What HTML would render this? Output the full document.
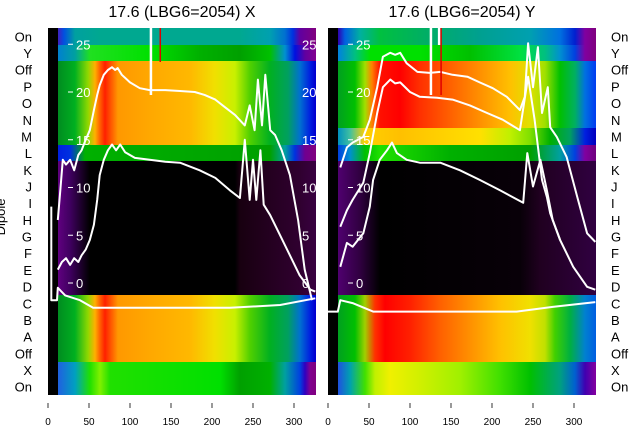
<!DOCTYPE html>
<html><head><meta charset="utf-8"><style>
html,body{margin:0;padding:0;background:#fff;}
svg{display:block;font-family:"Liberation Sans","DejaVu Sans",sans-serif;}
</style></head><body>
<svg id="chart" width="640" height="440" viewBox="0 0 640 440" xmlns="http://www.w3.org/2000/svg">
<defs id="defs"></defs>
<g id="root"></g>
</svg>
<script>
// ---------- data ----------
const rowLabels = ["On","Y","Off","P","O","N","M","L","K","J","I","H","G","F","E","D","C","B","A","Off","X","On"];
const xTicks = [0,50,100,150,200,250,300];
const yTicks = [0,5,10,15,20,25];
const titles = ["17.6 (LBG6=2054) X","17.6 (LBG6=2054) Y"];

// left panel curves (x in units, y in overlay units)
const leftUpperX = [12,15,18,22,27,32,37,41,46,51,56,60,63,68,73,78,82,85,90,100,112,124,143,161,179,191,204,216,228,240,246,252,256,261,265,271,277,285,295,305,313,322];
const leftUpperY = [6.6,9.7,12.9,12.4,12.9,11.8,13.4,13.9,15.0,16.0,18.1,19.7,20.7,21.8,22.3,22.6,22.3,22.5,21.8,21.0,20.4,20.2,20.2,20.1,20.0,19.7,19.2,18.4,17.6,16.5,18.6,16.0,21.3,16.5,21.8,16.0,15.5,13.9,11.3,6.6,1.4,-1.8];
const leftLowerX = [12,17,22,27,32,37,41,46,51,56,60,63,68,73,78,83,88,94,106,124,143,161,185,204,222,234,240,246,250,254,259,263,271,283,295,307,320,326];
const leftLowerY = [1.4,2.2,2.6,1.9,2.6,2.2,2.9,3.5,4.5,6.1,8.7,11.3,12.9,13.9,14.5,13.9,14.5,13.7,13.1,12.9,12.7,12.6,11.8,11.0,9.7,8.9,15.0,8.7,12.9,8.7,13.9,8.2,7.1,5.0,2.9,0.8,-0.7,-0.9];
const leftBaseX = [4,4,11,12,21,39,55,222,283,326];
const leftBaseY = [8,-1.8,-1.8,-0.5,-1.3,-1.8,-2.6,-2.6,-2.3,-1.6];

// right panel curves
const rightUpperX = [15,23,30,43,51,60,67,76,82,88,96,109,124,137,152,170,185,201,218,234,240,244,250,256,261,268,271,279,291,304,316,326];
const rightUpperY = [12.1,14.2,14.7,15.3,17.1,20.5,23.7,24.1,23.9,24.1,23.0,22.1,22.0,22.1,21.8,21.6,21.0,20.4,19.5,18.1,19.5,25.1,20.5,24.7,17.8,20.5,16.3,15.3,13.2,9.0,5.2,4.3];
const rightMidX = [15,23,30,43,51,60,67,76,82,88,100,112,133,152,173,194,213,234,244,252,261,267,271,283,299,316,326];
const rightMidY = [5.9,7.6,8.7,10.5,13.6,17.8,20.5,21.3,20.9,21.0,20.0,19.5,19.4,19.2,18.6,17.8,17.1,16.0,21.6,17.1,10.8,9.0,7.3,4.5,1.7,-0.4,-0.7];
const rightLowX = [15,23,30,43,51,55,63,72,78,84,96,112,137,161,185,210,238,243,250,259,267,274,283];
const rightLowY = [1.7,4.2,3.8,5.2,8.0,10.8,12.9,13.9,14.7,13.6,12.9,12.6,12.6,11.8,10.8,9.7,8.4,13.6,10.1,12.9,9.7,6.6,4.5];
const rightBaseX = [0,12,15,30,55,230,274,326];
const rightBaseY = [-3.0,-3.0,-1.8,-2.1,-3.0,-3.0,-2.5,-2.0];

// ---------- styling (colour bands) ----------
const bandsL = [
 [28,45,[[58,"#4020c0"],[64,"#0050e0"],[75,"#00a0a0"],[100,"#00a890"],[240,"#00a890"],[270,"#00a0b0"],[285,"#0070d0"],[293,"#0030e0"],[300,"#6000a0"],[315,"#800080"]]],
 [45,61,[[58,"#0080d0"],[75,"#00a0a0"],[90,"#20e020"],[150,"#00e000"],[200,"#00b000"],[240,"#00a000"],[270,"#00c000"],[285,"#0090d0"],[295,"#0010e0"],[305,"#6000a0"],[315,"#800090"]]],
 [61,145,[[58,"#008c20"],[75,"#00b020"],[88,"#90d800"],[95,"#ffb000"],[100,"#ff6000"],[105,"#ff2000"],[112,"#ff6000"],[118,"#ff9800"],[150,"#ffa800"],[190,"#ffb800"],[215,"#f0e000"],[235,"#c8f000"],[250,"#50d000"],[270,"#00b020"],[288,"#00a060"],[300,"#0070d0"],[310,"#0020e0"],[315,"#0000d0"]]],
 [145,161,[[58,"#0020e0"],[70,"#0030e0"],[85,"#00b000"],[270,"#00a000"],[285,"#00a0a0"],[295,"#0030e0"],[305,"#700090"],[315,"#800080"]]],
 [161,295,[[58,"#600080"],[70,"#400060"],[90,"#000000"],[235,"#000000"],[240,"#180010"],[300,"#300030"],[315,"#380040"]]],
 [295,362,[[58,"#008c20"],[75,"#00b020"],[88,"#90d800"],[95,"#ffb000"],[100,"#ff6000"],[105,"#ff2000"],[112,"#ff6000"],[118,"#ff9800"],[150,"#ffa800"],[190,"#ffb800"],[215,"#f0e000"],[235,"#c8f000"],[250,"#50d000"],[270,"#00b020"],[288,"#00a060"],[300,"#0070d0"],[310,"#0020e0"],[315,"#0000d0"]]],
 [362,395,[[58,"#2060e0"],[75,"#00a0c0"],[90,"#20e000"],[100,"#80f000"],[110,"#20e000"],[220,"#00e000"],[240,"#00a000"],[270,"#00b000"],[285,"#00a0a0"],[300,"#0040e0"],[305,"#3000c0"],[310,"#800090"],[315,"#800080"]]]
];
const bandsR = [
 [28,45,[[338,"#3000b0"],[345,"#0060e0"],[360,"#00b0a0"],[380,"#00c040"],[420,"#00b060"],[480,"#00a090"],[530,"#00a0b0"],[560,"#0070e0"],[575,"#0020d0"],[585,"#8000a0"],[595,"#800080"]]],
 [45,61,[[338,"#0080e0"],[355,"#00c080"],[370,"#00e000"],[420,"#00e000"],[470,"#00c000"],[520,"#00e040"],[545,"#00c080"],[560,"#0090d0"],[575,"#0040e0"],[585,"#8000a0"],[595,"#800080"]]],
 [61,128,[[338,"#00a020"],[355,"#00c000"],[365,"#a0e000"],[372,"#ff8000"],[380,"#ff1000"],[400,"#ff0000"],[420,"#ff3000"],[450,"#ff6000"],[480,"#ff9000"],[510,"#ffc000"],[530,"#e0e000"],[545,"#a0e000"],[560,"#00c000"],[575,"#00b060"],[585,"#0070e0"],[595,"#0040f0"]]],
 [128,145,[[338,"#0090c0"],[350,"#40c0a0"],[365,"#ffd000"],[400,"#ffc000"],[480,"#ffe000"],[510,"#c0f000"],[530,"#80e000"],[550,"#00b000"],[570,"#00a060"],[585,"#0020e0"],[595,"#0000c0"]]],
 [145,161,[[338,"#0040e0"],[350,"#0090d0"],[365,"#00c000"],[380,"#20e000"],[450,"#00b000"],[530,"#00a000"],[560,"#00a0a0"],[575,"#0040e0"],[585,"#8000a0"],[595,"#700080"]]],
 [161,295,[[338,"#500070"],[360,"#300040"],[380,"#000000"],[520,"#080008"],[540,"#200020"],[595,"#300040"]]],
 [295,362,[[338,"#00a020"],[355,"#00c000"],[365,"#a0d000"],[375,"#ff3000"],[385,"#ff0000"],[410,"#ff2000"],[440,"#ff6000"],[470,"#ff9000"],[500,"#ffc000"],[530,"#f0e000"],[545,"#c0e000"],[555,"#40d000"],[570,"#00b040"],[585,"#0080d0"],[595,"#0060e0"]]],
 [362,395,[[338,"#2050e0"],[350,"#00a0b0"],[365,"#40e000"],[375,"#c0f000"],[390,"#f0f000"],[420,"#d0f000"],[460,"#a0f000"],[500,"#40e000"],[530,"#00c000"],[560,"#00a080"],[575,"#0060d0"],[585,"#4000b0"],[595,"#8000a0"]]]
];

const NS = "http://www.w3.org/2000/svg";
const root = document.getElementById("root");
const defs = document.getElementById("defs");
function mk(tag, attrs, parent){
  const e = document.createElementNS(NS, tag);
  for (const k in attrs) e.setAttribute(k, attrs[k]);
  (parent||root).appendChild(e);
  return e;
}
const panels = [
  {L:48, R:316, bands:bandsL, rightLabels:true, spikes:[[124,75]], red:[136,34], curves:[[leftUpperX,leftUpperY],[leftLowerX,leftLowerY],[leftBaseX,leftBaseY]]},
  {L:328, R:596, bands:bandsR, rightLabels:false, spikes:[[124,75],[134,25]], red:[137,67], curves:[[rightUpperX,rightUpperY],[rightMidX,rightMidY],[rightLowX,rightLowY],[rightBaseX,rightBaseY]]}
];
const xs = (p, v) => p.L + v * 0.82;
const ys = v => 283 - v * 9.55;

panels.forEach((p, pi) => {
  const g = mk("g", {});
  
  
  const clipId = "clip" + pi;
  const cp = mk("clipPath", {id: clipId}, defs);
  mk("rect", {x:p.L, y:28, width:p.R - p.L, height:367}, cp);
  const bs = mk("rect", {x:p.L, y:28, width:10, height:367, fill:"#000"}, g);
  
  
  p.bands.forEach((b, bi) => {
    const id = "gr" + pi + "_" + bi;
    const lg = mk("linearGradient", {id:id, gradientUnits:"userSpaceOnUse", x1:p.L+10, x2:p.R, y1:0, y2:0}, defs);
    const w = p.R - p.L - 10;
    b[2].forEach(s => mk("stop", {offset: Math.max(0, Math.min(1, (s[0] - p.L - 10) / w)), "stop-color": s[1]}, lg));
    const r = mk("rect", {x:p.L+10, y:b[0], width:w, height:b[1]-b[0], fill:"url(#"+id+")"}, g);
    
    
  });
  xTicks.forEach(t => {
    const x = xs(p, t);
    mk("line", {x1:x, x2:x, y1:403, y2:408, stroke:"#000", "stroke-width":0.8}, g);
    const tx = mk("text", {x:x, y:425, "text-anchor":"middle", "font-size":"10", fill:"#000"}, g);
    tx.textContent = t;
    
    
  });
  const ov = mk("g", {"clip-path":"url(#"+clipId+")"}, g);
  yTicks.forEach(t => {
    const y = ys(t);
    mk("line", {x1:p.L+20, x2:p.L+25, y1:y, y2:y, stroke:"#fff", "stroke-width":1}, ov);
    const tx = mk("text", {x:p.L+28, y:y+5, "font-size":"13", fill:"#fff"}, ov);
    tx.textContent = t;
    
    
    if (p.rightLabels) {
      const tx2 = mk("text", {x:p.L+254, y:y+5, "font-size":"13", fill:"#fff"}, ov);
      tx2.textContent = t;
      
      
    }
  });
  p.spikes.forEach(s => {
    const sp = mk("rect", {x:xs(p, s[0]), y:20, width:2.5, height:s[1], fill:"#fff"}, g);
    
    
  });
  const rl = mk("rect", {x:xs(p, p.red[0]), y:28, width:1.5, height:p.red[1], fill:"#e00000"}, g);
  
  
  p.curves.forEach(c => {
    const pts = c[0].map((v, i) => xs(p, v).toFixed(1) + "," + ys(c[1][i]).toFixed(1)).join(" ");
    const pl = mk("polyline", {points:pts, fill:"none", stroke:"#fff", "stroke-width":2, "stroke-linejoin":"round"}, ov);
    
    
  });
  const tt = mk("text", {x:(p.L+p.R)/2, y:17, "text-anchor":"middle", "font-size":"16", fill:"#000"}, g);
  tt.textContent = titles[pi];
  
  
});

rowLabels.forEach((lab, i) => {
  const y = 28 + (i + 0.5) * (367 / 22) + 5;
  const a = mk("text", {x:32, y:y, "text-anchor":"end", "font-size":"13", fill:"#000"});
  a.textContent = lab;
  
  
  const b = mk("text", {x:611, y:y, "font-size":"13", fill:"#000"});
  b.textContent = lab;
  
  
});
const yl = mk("text", {x:0, y:0, "font-size":"13", fill:"#000", "text-anchor":"middle", transform:"translate(5,217) rotate(-90)"});
yl.textContent = "Dipole";


</script>
</body></html>
